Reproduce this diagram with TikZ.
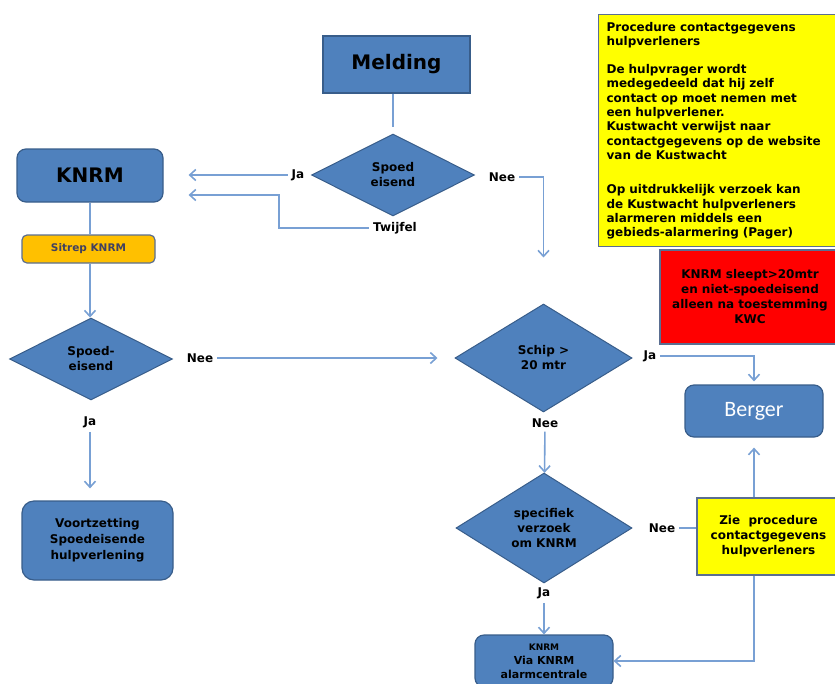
\documentclass[tikz,border=0pt]{standalone}
\usepackage{fontspec}
\setmainfont{DejaVu Sans}
\newfontfamily\bergerfont{Carlito}
\usetikzlibrary{shapes.geometric, arrows.meta, positioning}
\definecolor{kwblue}{RGB}{79,129,189}
\definecolor{kwborder}{RGB}{56,93,138}
\definecolor{kwarrow}{RGB}{120,160,212}
\definecolor{kworange}{RGB}{255,192,0}
\definecolor{kwyellow}{RGB}{255,255,0}
\definecolor{kwred}{RGB}{255,0,0}
\definecolor{kwframe}{RGB}{90,110,145}
\definecolor{kwsitrep}{RGB}{64,64,96}
\tikzset{
  box/.style={rectangle, draw=kwborder, fill=kwblue, line width=1.2pt, align=center,
    inner sep=2pt, font=\bfseries\fontsize{12}{16}\selectfont},
  roundbox/.style={box, rounded corners=9pt},
  decision/.style={diamond, draw=kwborder, fill=kwblue, line width=1pt, align=center,
    inner sep=0pt, font=\bfseries\fontsize{12}{15}\selectfont},
  note/.style={rectangle, draw=kwframe, line width=1.2pt, align=center,
    font=\bfseries\fontsize{12}{15}\selectfont},
  answer/.style={font=\bfseries\fontsize{12}{14}\selectfont, inner sep=4pt},
  link/.style={line width=1.6pt, color=kwarrow},
  arrow/.style={link, -{Straight Barb[length=6pt, width=11pt]}},
}

\begin{document}
\begin{tikzpicture}[x=1pt, y=-1pt]
  \useasboundingbox (0,0) rectangle (835,683);
  \clip (0,0) rectangle (835,683);
  % boxes and decisions
  \node[box, minimum width=147pt, minimum height=57pt, font=\bfseries\fontsize{20}{24}\selectfont] (melding) at (396.5,64.5) {Melding};
  \node[decision, minimum width=163pt, minimum height=82pt] (spoed) at (393,175) {Spoed\\eisend};
  \node[roundbox, minimum width=146pt, minimum height=53pt, font=\bfseries\fontsize{20}{24}\selectfont] (knrm) at (90,175.5) {KNRM};
  \node[roundbox, rounded corners=5pt, fill=kworange, draw=kwframe, text=kwsitrep, minimum width=133pt, minimum height=28pt, font=\bfseries\fontsize{10.5}{12}\selectfont] (sitrep) at (88.5,249) {Sitrep KNRM};
  \node[decision, minimum width=163pt, minimum height=82pt] (spoedtwee) at (91,359) {Spoed-\\eisend};
  \node[roundbox, rounded corners=12pt, minimum width=151pt, minimum height=79pt] (voortzetting) at (97.5,540.5) {Voortzetting\\Spoedeisende\\hulpverlening};
  \node[decision, minimum width=177pt, minimum height=108pt] (schip) at (543.5,358) {Schip >\\20 mtr};
  \node[roundbox, minimum width=138pt, minimum height=52pt, font=\bergerfont\fontsize{22}{26}\selectfont, text=white] (berger) at (754,411) {Berger};
  \node[decision, minimum width=176pt, minimum height=110pt] (verzoek) at (544,528) {specifiek\\verzoek\\om KNRM};
  \node[roundbox, minimum width=138pt, minimum height=52pt, font=\bfseries\fontsize{11}{14}\selectfont] (alarm) at (544,661) {{\fontsize{9}{14}\selectfont KNRM}\\Via KNRM\\alarmcentrale};
  % notes
  \node[note, fill=kwyellow, anchor=north west, minimum height=232pt, text width=229pt, align=left, inner xsep=8pt, font=\bfseries\fontsize{12}{14.3}\selectfont] (procedure) at (598,14)
    {Procedure contactgegevens\\hulpverleners\\[14pt]
     De hulpvrager wordt\\medegedeeld dat hij zelf\\contact op moet nemen met\\een hulpverlener.\\
     Kustwacht verwijst naar\\contactgegevens op de website\\van de Kustwacht\\[20pt]
     Op uitdrukkelijk verzoek kan\\de Kustwacht hulpverleners\\alarmeren middels een\\gebieds-alarmering (Pager)};
  \node[note, fill=kwred, minimum width=180pt, minimum height=94pt] (sleept) at (750,297) {KNRM sleept>20mtr\\en niet-spoedeisend\\alleen na toestemming\\KWC};
  \node[note, fill=kwyellow, minimum width=143pt, minimum height=77pt] (zie) at (768.5,536.5) {Zie\ \ procedure\\contactgegevens\\hulpverleners};
  % answers
  \node[answer] (jaspoed) at (298,175) {Ja};
  \node[answer] (twijfel) at (395,228) {Twijfel};
  \node[answer] (neespoed) at (502,177) {Nee};
  \node[answer] (neespoedtwee) at (200,358) {Nee};
  \node[answer] (jaspoedtwee) at (90,422) {Ja};
  \node[answer] (jaschip) at (650,356) {Ja};
  \node[answer] (neeschip) at (545,423) {Nee};
  \node[answer] (javerzoek) at (544,593) {Ja};
  \node[answer] (neeverzoek) at (662,528) {Nee};
  % connectors
  \draw[link, shorten >=7pt] (melding.south -| spoed) -- (spoed);
  \draw[arrow, shorten >=25pt] (jaspoed) -- (jaspoed -| knrm.east);
  \draw[arrow, shorten >=25pt] (twijfel.west) -- ++(-90,0) |- ([yshift=-19.5pt]knrm.east);
  \draw[arrow, shorten >=46pt] (neespoed) -| (schip.north);
  \draw[link] (knrm) -- (knrm |- sitrep.north);
  \draw[arrow] (sitrep.south -| knrm) -- (knrm |- spoedtwee.north);
  \draw[arrow, shorten >=17pt] (neespoedtwee) -- (neespoedtwee -| schip.west);
  \draw[arrow, shorten >=12pt] (jaspoedtwee) -- (jaspoedtwee |- voortzetting.north);
  \draw[arrow, shorten >=3pt] (jaschip) -| (berger.north);
  \draw[arrow] (neeschip) -- (verzoek);
  \draw[arrow] (javerzoek) -- (alarm);
  \draw[link] (neeverzoek) -- (neeverzoek -| zie.west);
  \draw[arrow, shorten >=10pt] (zie.north -| berger) -- (berger.south);
  \draw[arrow] (zie.south -| berger) |- (alarm.east);
\end{tikzpicture}
\end{document}
